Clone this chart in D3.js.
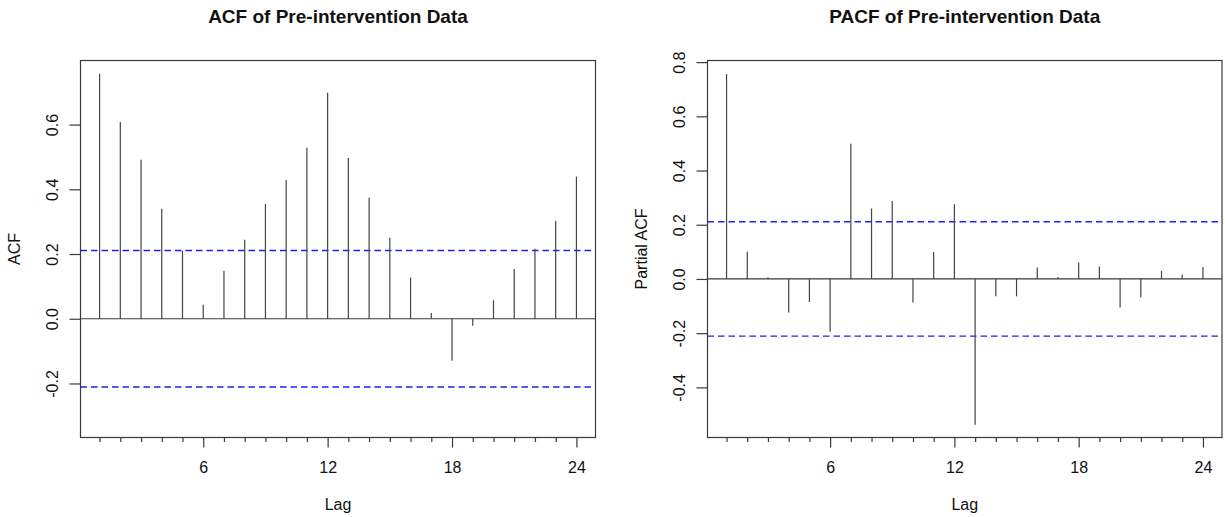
<!DOCTYPE html>
<html>
<head>
<meta charset="utf-8">
<script src="https://cdn.jsdelivr.net/npm/d3@7"></script>
<style>
  html, body { margin: 0; padding: 0; background: #fff; }
  svg { display: block; font-family: "Liberation Sans", Arial, sans-serif; }
</style>
</head>
<body>
<svg id="chart" width="1225" height="517"></svg>
<script>
// ---- data ----
const lags = d3.range(1, 25);
const acfValues = [0.757, 0.608, 0.491, 0.340, 0.210, 0.043, 0.148, 0.244, 0.355, 0.429, 0.528, 0.698,
                   0.497, 0.374, 0.250, 0.127, 0.018, -0.130, -0.022, 0.057, 0.154, 0.216, 0.303, 0.439];
const pacfValues = [0.756, 0.100, 0.006, -0.124, -0.085, -0.195, 0.499, 0.260, 0.288, -0.087, 0.099, 0.276,
                    -0.538, -0.064, -0.064, 0.042, 0.007, 0.061, 0.046, -0.105, -0.068, 0.030, 0.016, 0.044];
const confLimit = 0.211;
const xTickLabels = [6, 12, 18, 24];
const acfYTicks = [-0.2, 0.0, 0.2, 0.4, 0.6];
const pacfYTicks = [-0.4, -0.2, 0.0, 0.2, 0.4, 0.6, 0.8];
const acfYDomain = [-0.367, 0.798];
const pacfYDomain = [-0.585, 0.806];
const titles = ["ACF of Pre-intervention Data", "PACF of Pre-intervention Data"];
const yLabels = ["ACF", "Partial ACF"];
const xLabel = "Lag";

const svg = d3.select("#chart");
const fmt = d => d3.format(".1f")(d).replace("\u2212", "-");

function panel(opts) {
  const {left, right, top, bottom, values, yDomain, yTicks, title, yLabel, yLabelX} = opts;
  const g = svg.append("g");
  const x = d3.scaleLinear().domain([0.08, 24.92]).range([left, right]);
  const y = d3.scaleLinear().domain(yDomain).range([bottom, top]);
  const axisColor = "#3a3a3a";

  // confidence lines
  g.selectAll("line.conf").data([confLimit, -confLimit]).enter().append("line")
    .attr("x1", left).attr("x2", right)
    .attr("y1", d => y(d)).attr("y2", d => y(d))
    .attr("stroke", "#2020f5").attr("stroke-width", 1.4)
    .attr("stroke-dasharray", "6.5,4");

  // zero line
  g.append("line")
    .attr("x1", left).attr("x2", right)
    .attr("y1", y(0)).attr("y2", y(0))
    .attr("stroke", axisColor).attr("stroke-width", 1.2);

  // spikes
  g.selectAll("line.spike").data(lags).enter().append("line")
    .attr("x1", d => x(d)).attr("x2", d => x(d))
    .attr("y1", y(0)).attr("y2", (d, i) => y(values[i]))
    .attr("stroke", "#444").attr("stroke-width", 1.2);

  // box
  g.append("rect")
    .attr("x", left).attr("y", top)
    .attr("width", right - left).attr("height", bottom - top)
    .attr("fill", "none").attr("stroke", axisColor).attr("stroke-width", 1.2);

  // x axis
  const xAxis = d3.axisBottom(x)
    .tickValues(lags)
    .tickSize(4.5)
    .tickPadding(0)
    .tickFormat(d => xTickLabels.includes(d) ? d : "");
  const xg = g.append("g").attr("transform", `translate(0,${bottom})`).call(xAxis);
  xg.select(".domain").remove();
  xg.selectAll(".tick line").attr("stroke", axisColor).attr("stroke-width", 1.2)
    .attr("y2", d => xTickLabels.includes(d) ? 10 : 4.5);
  xg.selectAll(".tick text")
    .attr("y", 35.5).attr("dy", null)
    .attr("font-size", 16).attr("fill", "#111")
    .attr("font-family", "Liberation Sans, Arial, sans-serif");

  // y axis
  const yAxis = d3.axisLeft(y)
    .tickValues(yTicks)
    .tickSize(11)
    .tickFormat(fmt);
  const yg = g.append("g").attr("transform", `translate(${left},0)`).call(yAxis);
  yg.select(".domain").remove();
  yg.selectAll(".tick line").attr("stroke", axisColor).attr("stroke-width", 1.2);
  yg.selectAll(".tick text")
    .attr("x", null).attr("dy", null)
    .attr("text-anchor", "middle")
    .attr("transform", "translate(-22.5,0) rotate(-90)")
    .attr("font-size", 16).attr("fill", "#111")
    .attr("font-family", "Liberation Sans, Arial, sans-serif");

  // title
  g.append("text")
    .attr("x", (left + right) / 2).attr("y", 23)
    .attr("text-anchor", "middle")
    .attr("font-size", 19).attr("font-weight", "bold").attr("fill", "#111")
    .text(title);

  // x label
  g.append("text")
    .attr("x", (left + right) / 2).attr("y", 510)
    .attr("text-anchor", "middle")
    .attr("font-size", 16).attr("fill", "#111")
    .text(xLabel);

  // y label
  g.append("text")
    .attr("transform", `translate(${yLabelX},${(top + bottom) / 2}) rotate(-90)`)
    .attr("text-anchor", "middle")
    .attr("font-size", 16).attr("fill", "#111")
    .text(yLabel);
}

panel({left: 80.5, right: 595.5, top: 60.5, bottom: 437.5,
       values: acfValues, yDomain: acfYDomain, yTicks: acfYTicks,
       title: titles[0], yLabel: yLabels[0], yLabelX: 20});
panel({left: 707.5, right: 1222, top: 60.5, bottom: 437.5,
       values: pacfValues, yDomain: pacfYDomain, yTicks: pacfYTicks,
       title: titles[1], yLabel: yLabels[1], yLabelX: 647});
</script>
</body>
</html>
